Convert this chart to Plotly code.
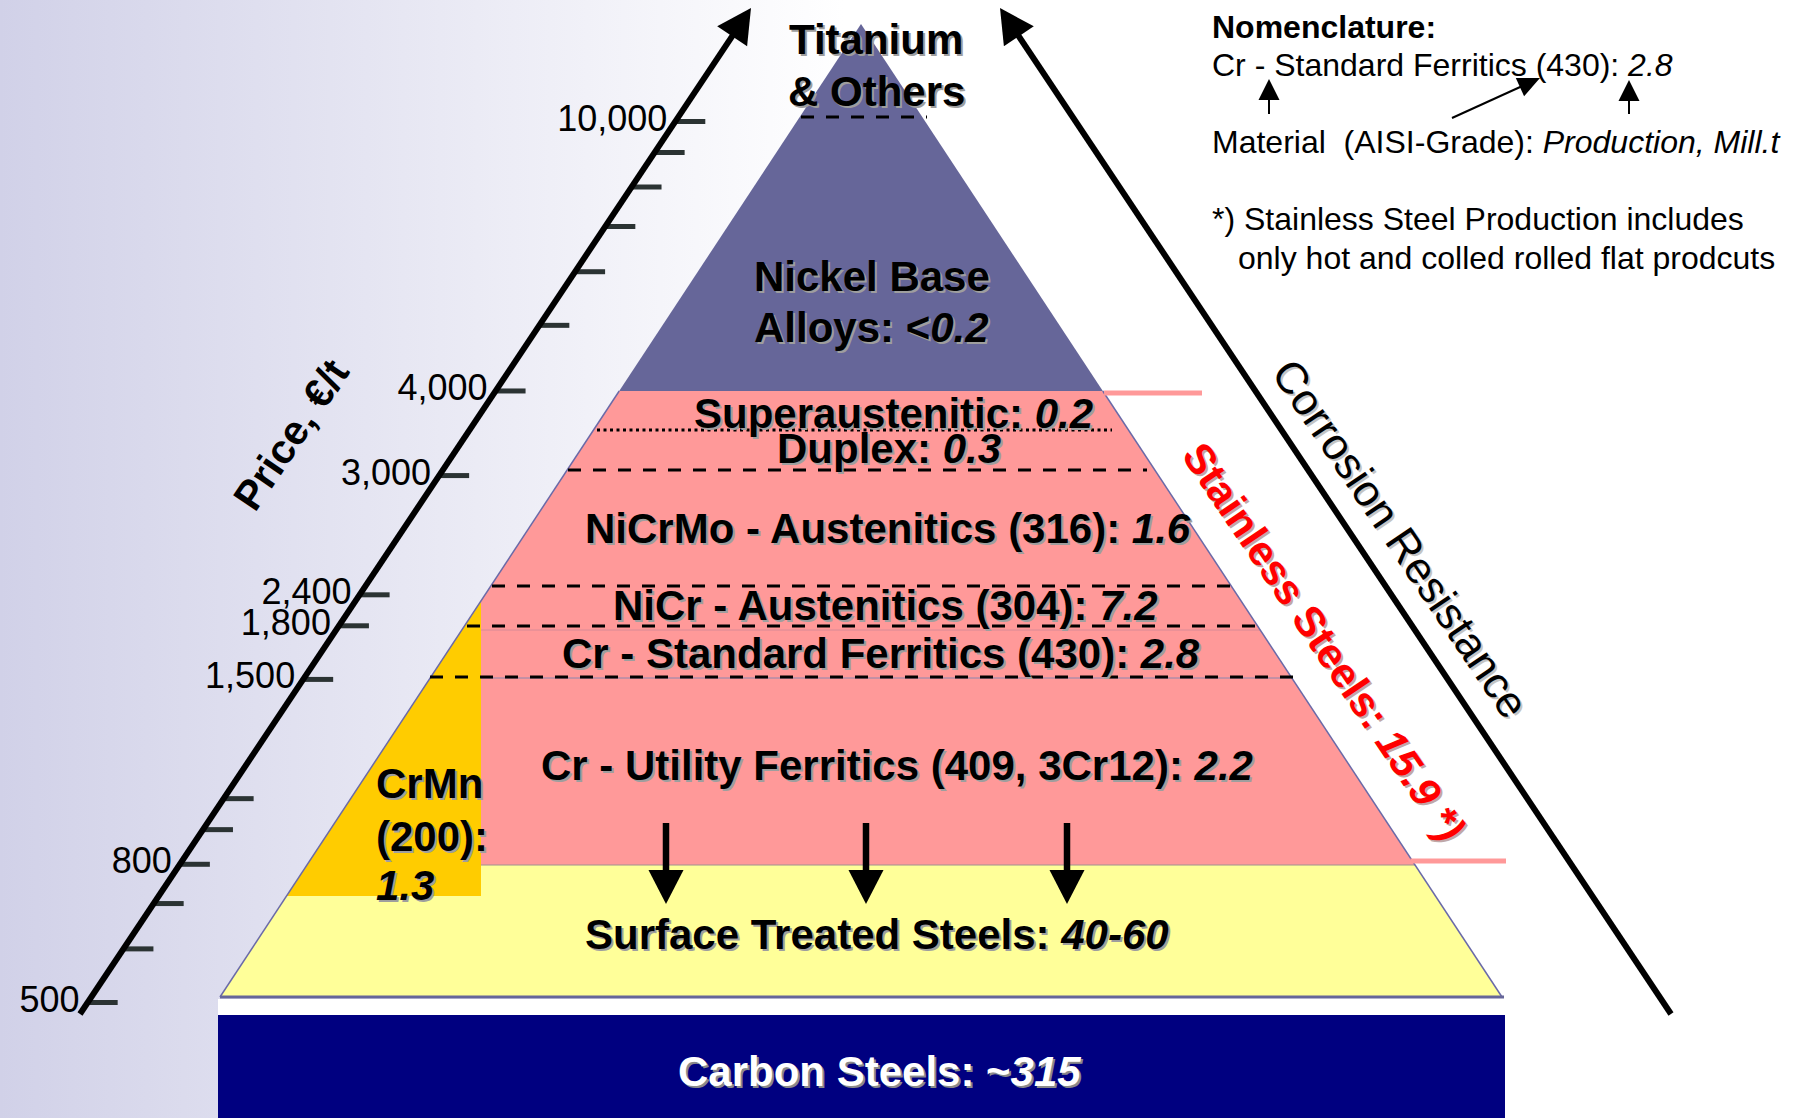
import math
import plotly.graph_objects as go

W, H = 1795, 1118
FONT = "Liberation Sans, Arial, Helvetica, sans-serif"

# ---------------- data ----------------
layer_names = ["Titanium & Others", "Nickel Base Alloys", "Superaustenitic", "Duplex",
               "NiCrMo - Austenitics (316)", "NiCr - Austenitics (304)",
               "Cr - Standard Ferritics (430)", "Cr - Utility Ferritics (409, 3Cr12)",
               "CrMn (200)", "Surface Treated Steels", "Carbon Steels"]
production_mt = ["", "<0.2", "0.2", "0.3", "1.6", "7.2", "2.8", "2.2", "1.3", "40-60", "~315"]
stainless_total_mt = "15.9 *)"

# tick positions follow the log price scale of the picture (the "2,400" tick sits at the 2000 position)
price_tick_values = [500, 600, 700, 800, 900, 1000, 1500, 1800, 2000, 3000, 4000,
                     5000, 6000, 7000, 8000, 9000, 10000]
price_tick_labels = ["500", "", "", "800", "", "", "1,500", "1,800", "2,400", "3,000", "4,000",
                     "", "", "", "", "", "10,000"]
price_axis_title = "Price, €/t"
corrosion_title = "Corrosion Resistance"
stainless_title = "Stainless Steels"
nomenclature_lines = ["Nomenclature:", "Material\u00a0 (AISI-Grade): ", "Production, Mill.t",
                      "*) Stainless Steel Production includes",
                      "only hot and colled rolled flat prodcuts"]

# ---------------- geometry (layout) ----------------
APEX_X, APEX_Y, BASE_Y, SLOPE = 861, 24, 997, 0.6588


def edge_l(y):
    return APEX_X - SLOPE * (y - APEX_Y)


def edge_r(y):
    return APEX_X + SLOPE * (y - APEX_Y)


bands = [(24, 391, "#666699"), (391, 865, "#ff9999"), (865, 997, "#ffff99")]
ORANGE_X, ORANGE_BOTTOM = 481, 896

# price axis pixel mapping (log scale handled by yaxis2)
P_LO, P_HI = 500, 10000
PY_LO, PY_HI = 1002.5, 121.5
PAD = 0.05
ppd = (PY_LO - PY_HI) / (math.log10(P_HI) - math.log10(P_LO))
dom_bottom_px = PY_LO + PAD * ppd
dom_top_px = PY_HI - PAD * ppd

AX0 = (80, 1014)
AX1 = (751, 8)


def price_px(v):
    return PY_LO - (math.log10(v) - math.log10(P_LO)) * ppd


def axis_x_at(py):
    return AX0[0] + (AX0[1] - py) * (AX1[0] - AX0[0]) / (AX0[1] - AX1[1])


fig = go.Figure()

# background gradient
fig.add_trace(go.Scatter(
    x=[0, W, W, 0, 0], y=[0, 0, H, H, 0], fill="toself", mode="none",
    fillgradient=dict(type="horizontal",
                      colorscale=[[0, "#d1d1e8"], [0.47, "#ffffff"], [1, "#ffffff"]]),
    hoverinfo="skip", showlegend=False))

# price ticks on a log axis
tx, ty = [], []
for v in price_tick_values:
    x0 = axis_x_at(price_px(v))
    tx += [x0, x0 + 30, None]
    ty += [v, v, None]
fig.add_trace(go.Scatter(x=tx, y=ty, yaxis="y2", mode="lines",
                         line=dict(color="#2b3333", width=5),
                         hoverinfo="skip", showlegend=False))
fig.add_trace(go.Scatter(
    x=[axis_x_at(price_px(v)) - 8 for v in price_tick_values], y=price_tick_values,
    text=price_tick_labels, yaxis="y2", mode="text", textposition="middle left",
    textfont=dict(size=36, family=FONT, color="black"), cliponaxis=False,
    hoverinfo="skip", showlegend=False))

shapes = []


def path_shape(pts, fill):
    d = "M " + " L ".join(f"{x:.1f},{y:.1f}" for x, y in pts) + " Z"
    shapes.append(dict(type="path", path=d, xref="x", yref="y", fillcolor=fill,
                       line=dict(width=0)))


def line_shape(x0, y0, x1, y1, color, width, dash="solid"):
    shapes.append(dict(type="line", x0=x0, y0=y0, x1=x1, y1=y1, xref="x", yref="y",
                       line=dict(color=color, width=width, dash=dash)))


def arrow(x0, y0, x1, y1, width, head_len, head_half, color="black"):
    dx, dy = x1 - x0, y1 - y0
    L = math.hypot(dx, dy)
    ux, uy = dx / L, dy / L
    bx, by = x1 - ux * head_len, y1 - uy * head_len
    line_shape(x0, y0, bx + ux * 2, by + uy * 2, color, width)
    px, py = -uy, ux
    path_shape([(x1, y1), (bx + px * head_half, by + py * head_half),
                (bx - px * head_half, by - py * head_half)], color)


# pyramid bands
for y1, y2, col in bands:
    path_shape([(edge_l(y1), y1), (edge_r(y1), y1), (edge_r(y2), y2), (edge_l(y2), y2)], col)
# CrMn block
o_top = APEX_Y + (APEX_X - ORANGE_X) / SLOPE
path_shape([(edge_l(o_top), o_top), (ORANGE_X, o_top), (ORANGE_X, ORANGE_BOTTOM),
            (edge_l(ORANGE_BOTTOM), ORANGE_BOTTOM)], "#ffcc00")
# thin dividers
line_shape(ORANGE_X, 630, edge_r(630), 630, "#d88a96", 1)
line_shape(ORANGE_X, 678, edge_r(678), 678, "#8a86b0", 1)
line_shape(ORANGE_X, 865, edge_r(865), 865, "#a09090", 1)
# outline
line_shape(edge_l(391), 391, edge_l(BASE_Y), BASE_Y, "#6a6aa8", 1.5)
line_shape(edge_r(391), 391, edge_r(BASE_Y), BASE_Y, "#6a6aa8", 1.5)
shapes.append(dict(type="rect", x0=218, y0=999, x1=1505, y1=1015, xref="x", yref="y",
                   fillcolor="white", line=dict(width=0)))
line_shape(edge_l(BASE_Y), BASE_Y, edge_r(BASE_Y) + 2, BASE_Y, "#666699", 3)
# carbon steels block
shapes.append(dict(type="rect", x0=218, y0=1015, x1=1505, y1=H + 5, xref="x", yref="y",
                   fillcolor="#000080", line=dict(width=0)))

# dashed / dotted separators
DASH = "13px,12px"
line_shape(801, 117, 927, 117, "black", 3, DASH)
line_shape(597, 430, 1112, 430, "black", 3, "3px,3.5px")
line_shape(568, 470, 1147, 470, "black", 3, DASH)
line_shape(492, 586, 1236, 586, "black", 3, DASH)
line_shape(467, 626, 1259, 626, "black", 3, DASH)
line_shape(430, 677, 1296, 677, "black", 3, DASH)

# stainless bracket
line_shape(edge_r(393), 393, 1202, 393, "#ff9999", 5)
line_shape(edge_r(861) - 2, 861, 1506, 861, "#ff9999", 5)

# down arrows
for ax in (666, 866, 1067):
    arrow(ax, 823, ax, 904, 6.5, 34, 17.5)

# main axes arrows
arrow(AX0[0], AX0[1], AX1[0], AX1[1], 6, 34, 18)
arrow(1671, 1014, 1000, 8, 6, 34, 18)

# nomenclature arrows
arrow(1269, 114, 1269, 79, 2, 21, 10.5)
arrow(1452, 118, 1540, 78, 2, 22, 10)
arrow(1629, 114, 1629, 80, 2, 21, 10.5)

anns = []


def val(v):
    if v and v[0] in "<~":
        return ("&lt;" if v[0] == "<" else v[0]) + f"<i>{v[1:]}</i>"
    return f"<i>{v}</i>"


def txt(x, y, s, size=42, color="black", bold=True, shadow="#9e9e9e", anchor="center",
        angle=0, off=2):
    if bold:
        s = f"<b>{s}</b>"
    if shadow:
        anns.append(dict(x=x + off, y=y + off, text=s, xref="x", yref="y", showarrow=False,
                         xanchor=anchor, yanchor="middle", textangle=angle,
                         font=dict(family=FONT, size=size, color=shadow)))
    anns.append(dict(x=x, y=y, text=s, xref="x", yref="y", showarrow=False,
                     xanchor=anchor, yanchor="middle", textangle=angle,
                     font=dict(family=FONT, size=size, color=color)))


txt(876, 39, "Titanium")
txt(876, 91, "&amp; Others")
txt(872, 276, "Nickel Base")
txt(871, 327, f"Alloys: {val(production_mt[1])}")
txt(893, 413, f"{layer_names[2]}: {val(production_mt[2])}")
txt(889, 448, f"{layer_names[3]}: {val(production_mt[3])}")
txt(888, 528, f"{layer_names[4]}: {val(production_mt[4])}")
txt(885, 605, f"{layer_names[5]}: {val(production_mt[5])}")
txt(881, 653, f"{layer_names[6]}: {val(production_mt[6])}")
txt(897, 765, f"{layer_names[7]}: {val(production_mt[7])}")
txt(374, 783, "CrMn", anchor="left")
txt(374, 836, "(200):", anchor="left")
txt(374, 885, val(production_mt[8]), anchor="left")
txt(877, 934, f"{layer_names[9]}: {val(production_mt[9])}")
txt(879, 1071, f"{layer_names[10]}: {val(production_mt[10])}", color="white", shadow="#8a8a8a")

# rotated titles
txt(291, 435, price_axis_title, size=41, shadow=None, angle=-56)
txt(1401, 538, corrosion_title, size=44, bold=False, shadow="#c4c4c4", angle=56)
txt(1324, 641, f"{stainless_title}: <i>{stainless_total_mt}</i>", size=42, color="#ff0000",
    shadow="#c0a8a8", angle=56)

# nomenclature
txt(1210, 27, nomenclature_lines[0], size=32, shadow=None, anchor="left")
txt(1210, 65, f"{layer_names[6]}: <i>{production_mt[6]}</i>", size=32, bold=False,
    shadow=None, anchor="left")
txt(1210, 142, nomenclature_lines[1] + f"<i>{nomenclature_lines[2]}</i>", size=32, bold=False,
    shadow=None, anchor="left")
txt(1210, 219, nomenclature_lines[3], size=32, bold=False, shadow=None, anchor="left")
txt(1236, 258, nomenclature_lines[4], size=32, bold=False, shadow=None, anchor="left")

fig.update_layout(
    width=W, height=H, margin=dict(l=0, r=0, t=0, b=0),
    paper_bgcolor="white", plot_bgcolor="rgba(0,0,0,0)",
    xaxis=dict(range=[0, W], visible=False, fixedrange=True),
    yaxis=dict(range=[H, 0], visible=False, fixedrange=True),
    yaxis2=dict(type="log", anchor="x", visible=False, fixedrange=True,
                range=[math.log10(P_LO) - PAD, math.log10(P_HI) + PAD],
                domain=[1 - dom_bottom_px / H, 1 - dom_top_px / H]),
    shapes=shapes, annotations=anns, showlegend=False,
)

fig.write_html("out.html", config={"displayModeBar": False},
               post_script="document.body.style.margin='0';document.body.style.overflow='hidden';")
